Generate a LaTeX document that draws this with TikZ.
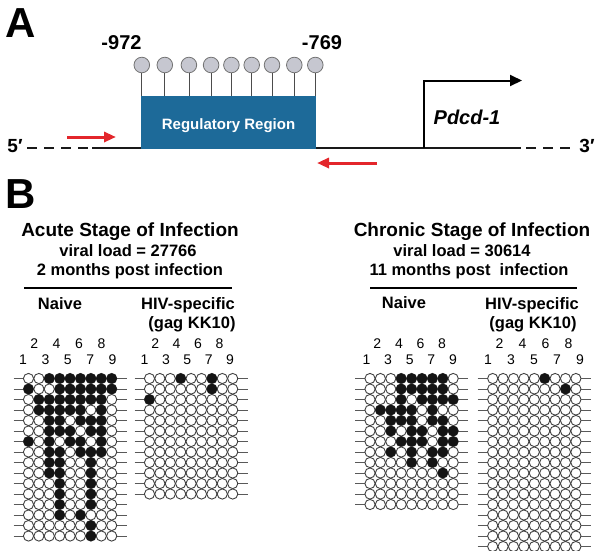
\documentclass[tikz,border=0pt]{standalone}
\usepackage{fontspec}
\setmainfont{Liberation Sans}
\usetikzlibrary{arrows.meta}
\definecolor{regblue}{HTML}{1D6A99}
\definecolor{pcircle}{HTML}{C6C7D0}
\definecolor{pred}{HTML}{E3262B}
\newcommand\myfs[1]{\fontsize{#1}{#1}\selectfont}
\tikzset{
  txt/.style={inner sep=0pt, anchor=base},
  hd/.style={txt, font=\myfs{19}\bfseries},
  sub/.style={txt, font=\myfs{16.5}\bfseries},
  num/.style={txt, font=\myfs{14}},
  panel/.style={txt, font=\myfs{42}\bfseries},
  gridrow/.style={draw=black!65, line width=1pt},
  cpg/.style={draw=black!75, fill=white, line width=0.9pt},
  cpgm/.style={fill=black!92},
  lolli/.style={circle, draw=black!55, fill=pcircle, line width=0.8pt, minimum size=15.6pt, inner sep=0pt},
  stem/.style={draw=black!70, line width=0.8pt},
  dna/.style={line width=1.8pt, draw=black!90},
  prom/.style={line width=2pt, -{Triangle[length=12pt,width=11pt]}},
  redarr/.style={draw=pred, line width=3pt, -{Triangle[length=12pt,width=10pt]}, color=pred},
  rulebar/.style={line width=2pt}
}
% #1 x of column 1, #2 list of rows (each a list of black columns, 0 = none)
\newcommand\methgrid[2]{%
  \foreach \rowlist [count=\r from 0] in {#2} {
    \draw[gridrow] ({#1-15},{378.5+\r*10.5}) -- ({#1+8*10.4+15},{378.5+\r*10.5});
    \foreach \c in {1,...,9} \draw[cpg] ({#1+(\c-1)*10.4},{378.5+\r*10.5}) circle[radius=5.1];
    \foreach \c in \rowlist {\ifnum\c>0 \fill[cpgm] ({#1+(\c-1)*10.4},{378.5+\r*10.5}) circle[radius=5.2];\fi}
  }
}
% #1 x of label 1, #2 label pitch, #3 name prefix
\newcommand\gridlabels[3]{%
  \foreach \k in {1,3,5,7,9} \node[num] (#3o\k) at ({#1+(\k-1)*#2},364.5) {\k};
  \foreach \k in {2,4,6,8} \node[num] (#3e\k) at ({#1+(\k-1)*#2},348) {\k};
}
\begin{document}
\begin{tikzpicture}[x=1pt,y=-1pt]
\useasboundingbox (0,0) rectangle (601,550);
% ---------------- Panel A ----------------
\node[panel] (lblA) at (21,37) {A};
\node[txt, font=\myfs{20}\bfseries] (p972) at (121.5,49) {-972};
\node[txt, font=\myfs{20}\bfseries] (p769) at (322,49) {-769};
% DNA line
\draw[dna, dash pattern=on 9.5pt off 7.6pt] (27,148) -- (92,148);
\draw[dna] (92,148) -- (521,148);
\draw[dna, dash pattern=on 9.5pt off 7.6pt] (526,148) -- (571,148);
\node[txt, font=\myfs{19}\bfseries] (five) at (15,152.5) {5′};
\node[txt, font=\myfs{19}\bfseries] (three) at (587,152.5) {3′};
% lollipops
\foreach \x [count=\i] in {141.8,164.8,188.9,211.1,231.4,251.7,272,294.3,315.3} {
  \node[lolli] (cg\i) at (\x,65) {};
  \draw[stem] (cg\i.south) -- (\x,96);
}
\node[fill=regblue, minimum width=175.9pt, minimum height=53.6pt, inner sep=0pt] (reg) at (228.5,122.6) {};
\node[txt, font=\myfs{15}\bfseries, text=white] (regtxt) at (228.5,129.9) {Regulatory Region};
% promoter arrow
\coordinate (tss) at (424,148);
\coordinate (tssTop) at (424,80.5);
\coordinate (tssEnd) at (522,80.5);
\draw[prom] (tss) -- (tssTop) -- (tssEnd);
\node[txt, font=\myfs{20}\bfseries\itshape] (gene) at (467,124.2) {Pdcd-1};
% primers
\coordinate (fwdA) at (67,137);
\coordinate (fwdB) at (116,137);
\coordinate (revA) at (377,163);
\coordinate (revB) at (317,163);
\draw[redarr] (fwdA) -- (fwdB);
\draw[redarr] (revA) -- (revB);
% ---------------- Panel B ----------------
\node[panel] (lblB) at (21,208.5) {B};
% acute
\node[hd] (acT) at (130,236.8) {Acute Stage of Infection};
\node[sub] (acV) at (128,256.9) {viral load = 27766};
\node[sub] (acM) at (130,275.9) {2 months post infection};
\draw[rulebar] (24,288) -- (232,288);
\node[sub] (acN) at (60,309.4) {Naive};
\node[sub] (acH) at (188,309.4) {HIV-specific};
\node[sub] (acG) at (192,328.4) {(gag KK10)};
% chronic
\node[hd] (chT) at (472,236.8) {Chronic Stage of Infection};
\node[sub] (chV) at (462,256.9) {viral load = 30614};
\node[sub] (chM) at (469,275.9) {11 months post\ \ infection};
\draw[rulebar] (370,288) -- (577,288);
\node[sub] (chN) at (404,308.4) {Naive};
\node[sub] (chH) at (532,309.4) {HIV-specific};
\node[sub] (chG) at (533,328.4) {(gag KK10)};
% labels
\gridlabels{23}{11.2}{an}
\gridlabels{144.5}{10.7}{ah}
\gridlabels{366.5}{10.8}{cn}
\gridlabels{488}{11.5}{ch}
% grids
\methgrid{28.5}{{3,4,5,6,7,8,9},{1,4,5,6,7,8,9},{2,3,4,5,6,7,8},{2,3,4,5,6,8},{3,4,6,7,8},{3,4,5,7,8},{1,3,5,6,8},{3,4,6,7,8},{3,4,7},{3,4,7},{4,7},{4,7},{4,7},{4,6},{7},{7}}
\methgrid{149.5}{{4,7},{7},{1},{0},{0},{0},{0},{0},{0},{0},{0},{0}}
\methgrid{370}{{4,5,6,7,8},{4,5,6,7,8},{4,6,7,8,9},{2,3,4,5,7},{3,4,5,7,8},{3,5,6,8,9},{4,5,6,8,9},{3,5,7,8},{5,7},{8},{0},{0},{0}}
\methgrid{492.7}{{6},{8},{0},{0},{0},{0},{0},{0},{0},{0},{0},{0},{0},{0},{0},{0},{0}}
\end{tikzpicture}
\end{document}
